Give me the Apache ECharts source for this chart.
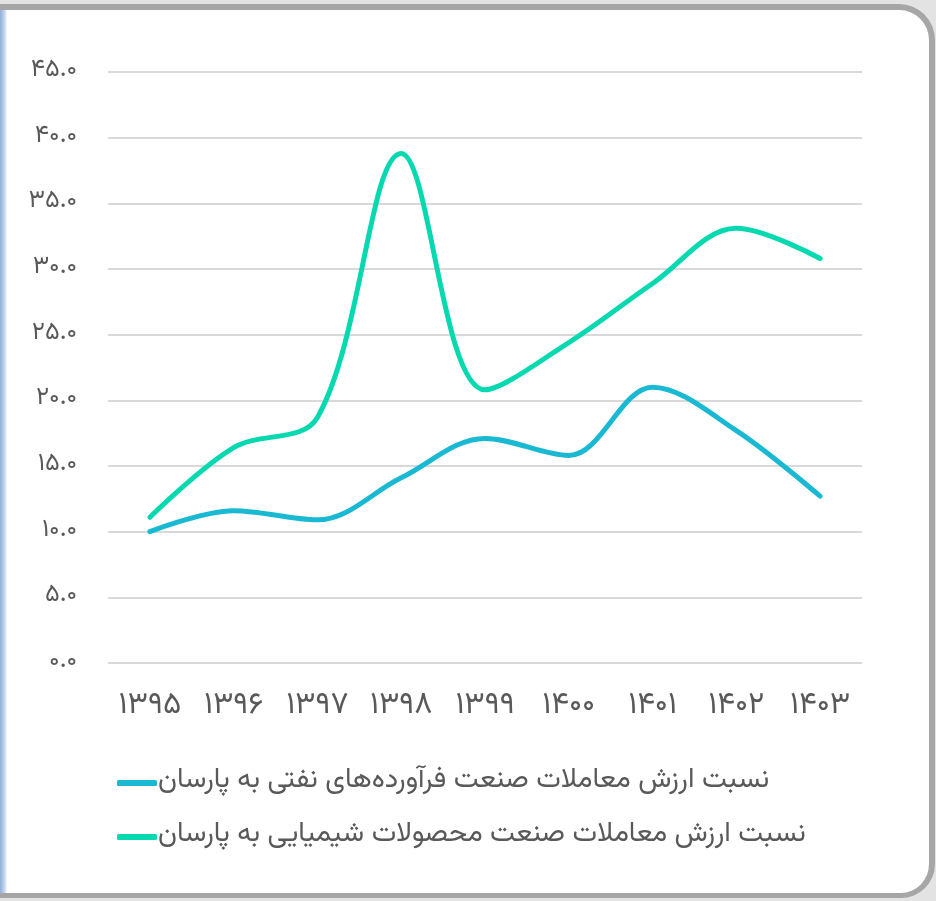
<!DOCTYPE html>
<html>
<head>
<meta charset="utf-8">
<script src="https://cdn.jsdelivr.net/npm/echarts@6/dist/echarts.min.js"></script>
<style>
html,body{margin:0;padding:0;width:936px;height:901px;overflow:hidden;background:#e3e3e3;}
#frame{position:absolute;left:0;top:4px;width:929px;height:883px;background:#fff;border-top:6px solid #a6a6a6;border-right:6px solid #a6a6a6;border-bottom:5px solid #a6a6a6;border-top-right-radius:36px;border-bottom-right-radius:34px;}
#strip{position:absolute;left:0;top:10px;width:7px;height:883px;background:linear-gradient(to right,#8fb0d8,#c9d9ee 70%,#ffffff);}
#chart{position:absolute;left:0;top:0;width:936px;height:901px;}
</style>
</head>
<body>
<div id="frame"></div>
<div id="strip"></div>
<div id="chart"></div>
<script>
const categories = ['۱۳۹۵','۱۳۹۶','۱۳۹۷','۱۳۹۸','۱۳۹۹','۱۴۰۰','۱۴۰۱','۱۴۰۲','۱۴۰۳'];
const seriesNames = ['نسبت ارزش معاملات صنعت فرآورده‌های نفتی به پارسان','نسبت ارزش معاملات صنعت محصولات شیمیایی به پارسان'];
const oilProducts = [10.0, 11.6, 10.9, 14.1, 17.1, 15.8, 21.0, 17.7, 12.7];
const chemicals = [11.1, 16.4, 18.7, 38.8, 20.8, 24.4, 28.9, 33.1, 30.8];
const persianDigits = ['۰','۱','۲','۳','۴','۵','۶','۷','۸','۹'];
function toFa(v){return v.toFixed(1).replace(/[0-9]/g,d=>persianDigits[+d]);}
const font = 'Vazirmatn, "DejaVu Sans", "Noto Sans", sans-serif';
const chart = echarts.init(document.getElementById('chart'), null, {renderer:'canvas'});
chart.setOption({
  backgroundColor:'transparent',
  animation:false,
  grid:{left:108,right:74,top:72,bottom:238},
  xAxis:{type:'category',data:categories,boundaryGap:true,
    axisLine:{show:false},axisTick:{show:false},
    axisLabel:{color:'#595959',fontSize:31,margin:30,fontFamily:font}},
  yAxis:{type:'value',min:0,max:45,interval:5,
    axisLine:{show:false},axisTick:{show:false},
    splitLine:{lineStyle:{color:'#d9d9d9',width:2}},
    axisLabel:{color:'#595959',fontSize:25,margin:31,fontFamily:font,formatter:v=>toFa(v)}},
  legend:{orient:'vertical',left:112,top:764,itemGap:26,itemWidth:40,itemHeight:6,
    icon:'roundRect',
    textStyle:{color:'#595959',fontSize:28,fontFamily:font,padding:[0,0,0,-4]},
    data:seriesNames},
  series:[
    {name:seriesNames[0],type:'line',data:oilProducts,smooth:0.35,showSymbol:false,
     lineStyle:{width:5,color:'#1ab9d3',cap:'round'},itemStyle:{color:'#1ab9d3'}},
    {name:seriesNames[1],type:'line',data:chemicals,smooth:0.35,showSymbol:false,
     lineStyle:{width:5,color:'#06d9b0',cap:'round'},itemStyle:{color:'#06d9b0'}}
  ]
});
</script>
</body>
</html>
